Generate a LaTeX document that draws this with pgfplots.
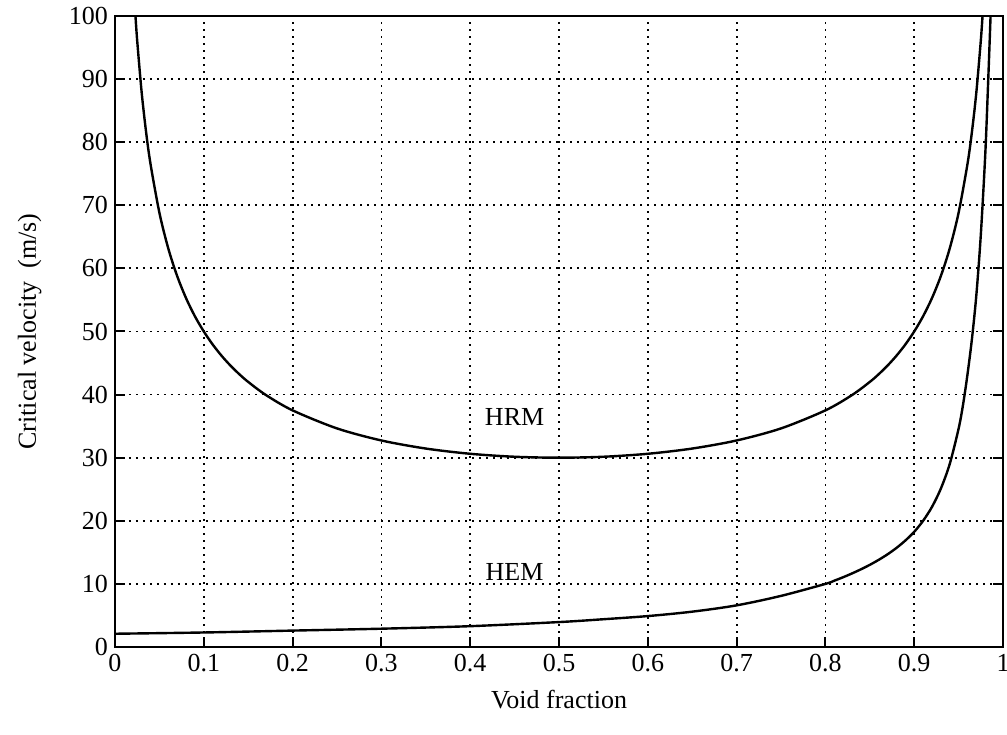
\documentclass[border=0pt]{standalone}
\usepackage{fontspec}
\setmainfont{Liberation Serif}
\usepackage{pgfplots}
\pgfplotsset{compat=1.18}

\newcommand{\lblfont}{\fontsize{13}{15.5}\selectfont}

\begin{document}
\begin{tikzpicture}
\begin{axis}[
	scale only axis, width=444pt, height=315.5pt,
	xmin=0, xmax=1, ymin=0, ymax=100,
	xtick={0,0.1,0.2,0.3,0.4,0.5,0.6,0.7,0.8,0.9,1},
	xticklabels={0,0.1,0.2,0.3,0.4,0.5,0.6,0.7,0.8,0.9,1},
	ytick={0,10,20,30,40,50,60,70,80,90,100},
	yticklabels={0,10,20,30,40,50,60,70,80,90,100},
	tick align=inside, major tick length=5pt,
	xtick pos=bottom, ytick pos=both,
	tick style={black, line width=1pt},
	axis line style={line width=1.1pt},
	grid=major,
	major grid style={black, line width=0.9pt, dash pattern=on 0.9pt off 2.6pt},
	tick label style={font=\lblfont},
	label style={font=\lblfont},
	xlabel={Void fraction},
	ylabel={Critical velocity\ \ (m/s)},
	xlabel style={at={(axis description cs:0.5,-0.084)}, anchor=center},
	ylabel style={at={(axis description cs:-0.096,0.5)}, anchor=center},
]
% HRM
\addplot[black, line width=1.2pt, smooth] coordinates {
(0.023,100.1) (0.025,96.08) (0.03,87.93) (0.035,81.62) (0.04,76.55)
(0.05,68.82) (0.06,63.16) (0.07,58.79) (0.08,55.29) (0.09,52.41)
(0.10,50.00) (0.11,47.94) (0.12,46.16) (0.13,44.60) (0.14,43.23)
(0.15,42.01) (0.17,39.93) (0.20,37.50) (0.25,34.64)
(0.30,32.73) (0.35,31.45) (0.40,30.62) (0.45,30.15) (0.50,30.00)
(0.55,30.15) (0.60,30.62) (0.65,31.45) (0.70,32.73) (0.75,34.64)
(0.80,37.50) (0.83,39.93) (0.85,42.01) (0.86,43.23) (0.87,44.60)
(0.88,46.16) (0.89,47.94) (0.90,50.00) (0.91,52.41)
(0.92,55.29) (0.93,58.79) (0.94,63.16) (0.95,68.82) (0.96,76.55)
(0.965,81.62) (0.97,87.93) (0.975,96.08) (0.977,100.1)
};
% HEM
\addplot[black, line width=1.2pt, smooth] coordinates {
(0,2.1) (0.1,2.3) (0.2,2.6) (0.3,2.9) (0.4,3.3) (0.5,3.95)
(0.55,4.4) (0.6,4.9) (0.65,5.6) (0.7,6.6) (0.75,8.1) (0.8,10.0)
(0.81,10.51) (0.82,11.06) (0.83,11.66) (0.84,12.31) (0.85,13.02)
(0.86,13.81) (0.87,14.69) (0.88,15.70) (0.89,16.87) (0.90,18.25)
(0.91,20.0) (0.92,22.2) (0.93,25.1) (0.94,29.0) (0.95,34.6)
(0.955,38.4) (0.96,43.2) (0.965,48.8) (0.97,55.8) (0.975,65.3)
(0.98,78.0) (0.983,88.5) (0.986,100.0) (0.987,104.5)
};
\node[font=\lblfont] at (axis cs:0.45,36.4) {HRM};
\node[font=\lblfont] at (axis cs:0.45,11.9) {HEM};
\end{axis}
\pgfresetboundingbox
\useasboundingbox (-57.5pt,-43.5pt) rectangle (446pt,323.5pt);
\end{tikzpicture}
\end{document}
